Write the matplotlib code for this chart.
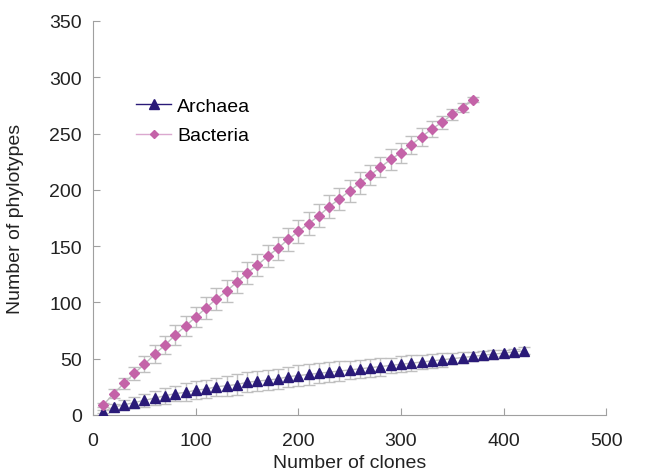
import numpy as np
import matplotlib.pyplot as plt
from matplotlib.lines import Line2D

plt.rcParams['font.family'] = ['Liberation Sans', 'DejaVu Sans']

# data
archaeaClones = np.arange(10, 430, 10)
archaeaPhylotypes = [3, 7, 9, 11, 13, 15, 17, 19, 20, 22, 23, 25, 26, 27, 29, 30, 31, 32, 34, 35, 36,
                     37, 38, 39, 40, 41, 42, 43, 44, 45, 46, 47, 48, 49, 50, 51, 52, 53, 54, 55, 56, 57]
archaeaError = [1, 3, 4, 5, 6, 6, 7, 7, 8, 8, 8, 8, 9, 9, 9, 9, 9, 9, 9, 9, 9,
                9, 9, 9, 8, 8, 8, 8, 7, 7, 7, 6, 6, 6, 5, 5, 4, 4, 4, 3, 3, 3]

bacteriaClones = np.arange(10, 380, 10)
bacteriaPhylotypes = [9, 19, 28, 37, 45, 54, 62, 71, 79, 87, 95, 103, 110, 118, 126, 133, 141, 148, 156,
                      163, 170, 177, 185, 192, 199, 206, 213, 220, 227, 233, 240, 247, 254, 260, 267, 273, 280]
bacteriaError = [2, 4, 5, 6, 7, 8, 8, 9, 9, 9, 10, 10, 10, 10, 10, 10, 10, 10, 10,
                 10, 10, 10, 10, 10, 10, 10, 9, 9, 9, 9, 8, 8, 7, 6, 5, 4, 2]

archaeaColor = '#2a1a78'
bacteriaColor = '#c463a8'
errColor = '#c0c0c0'

fig = plt.figure(figsize = (6.47, 4.77), dpi = 100)
ax = fig.add_axes([0.144, 0.128, 0.793, 0.826])

ax.errorbar(bacteriaClones, bacteriaPhylotypes, yerr = bacteriaError, fmt = '-',
            color = errColor, linewidth = 1, ecolor = errColor, elinewidth = 1,
            capsize = 4, capthick = 1, zorder = 1)
ax.errorbar(archaeaClones, archaeaPhylotypes, yerr = archaeaError, fmt = '-',
            color = errColor, linewidth = 1, ecolor = errColor, elinewidth = 1,
            capsize = 4, capthick = 1, zorder = 1)
ax.plot(archaeaClones, archaeaPhylotypes, linestyle = 'none', color = archaeaColor,
        marker = '^', markersize = 7.5, zorder = 3)
ax.plot(bacteriaClones, bacteriaPhylotypes, linestyle = 'none', color = bacteriaColor,
        marker = 'D', markersize = 5.5, zorder = 3)

ax.set_xlim(0, 500)
ax.set_ylim(0, 350)
ax.set_xticks(range(0, 501, 100))
ax.set_yticks(range(0, 351, 50))
ax.set_xlabel('Number of clones', fontsize = 14, color = '#222222', labelpad = 4)
ax.set_ylabel('Number of phylotypes', fontsize = 14, color = '#222222', labelpad = 18)
ax.tick_params(labelsize = 14, colors = '#222222', direction = 'in', length = 5)
ax.tick_params(axis = 'x', pad = 12)
ax.tick_params(axis = 'y', pad = 8)
for side in ['top', 'right']:
    ax.spines[side].set_visible(False)
for side in ['left', 'bottom']:
    ax.spines[side].set_color('#a0a0a0')
ax.tick_params(color = '#a0a0a0')

handles = [Line2D([], [], color = archaeaColor, marker = '^', markersize = 7, linewidth = 1),
           Line2D([], [], color = '#dba8cf', marker = 'D', markersize = 4, linewidth = 1,
                  markerfacecolor = bacteriaColor, markeredgecolor = bacteriaColor)]
ax.legend(handles, ['Archaea', 'Bacteria'], loc = 'upper left', bbox_to_anchor = (0.05, 0.85),
          frameon = False, fontsize = 14, handlelength = 1.8, handletextpad = 0.3,
          labelspacing = 0.6)

fig.savefig('out.png', dpi = 100)
